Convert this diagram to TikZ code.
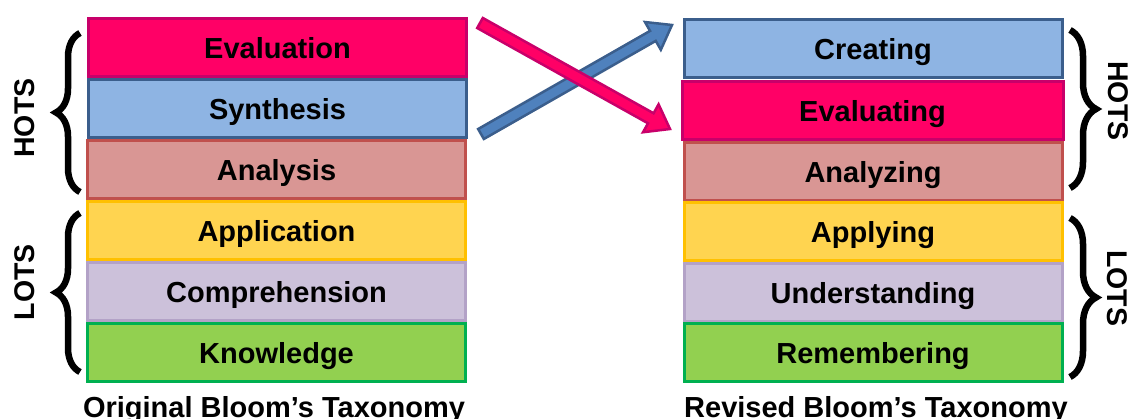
\documentclass[tikz,border=0pt]{standalone}
\usepackage{fontspec}
\setmainfont{Liberation Sans}
\usetikzlibrary{calc,decorations.pathreplacing}
\definecolor{evalF}{HTML}{FF0066}
\definecolor{evalD}{HTML}{C8006A}
\definecolor{synF}{HTML}{8EB4E3}
\definecolor{synD}{HTML}{3B5E8C}
\definecolor{anaF}{HTML}{D99694}
\definecolor{anaD}{HTML}{C0504D}
\definecolor{appF}{HTML}{FFD450}
\definecolor{appD}{HTML}{FFC000}
\definecolor{comF}{HTML}{CCC1DA}
\definecolor{comD}{HTML}{B3A2C7}
\definecolor{knoF}{HTML}{92D050}
\definecolor{knoD}{HTML}{00B050}
\definecolor{arrB}{HTML}{4F81BD}
\begin{document}
\begin{tikzpicture}[x=1pt,y=-1pt,
  lvl/.style={draw, line width=3pt, minimum width=378pt, minimum height=58pt, inner sep=0pt,
              text height=22.5pt, text depth=0pt,
              font=\fontsize{29}{30}\selectfont\bfseries},
  side/.style={font=\fontsize{28.5}{30}\selectfont\bfseries, inner sep=0pt},
  brc/.style={decorate, decoration={brace, amplitude=#1}, line width=6.5pt},
  brc/.default=24pt,
  ttl/.style={font=\fontsize{29}{30}\selectfont\bfseries, anchor=base, inner sep=0pt},
  blk/.style={line width=2.5pt, line join=miter}]
\useasboundingbox (0,0) rectangle (1130,418);

% left column
\node[lvl, draw=evalD, fill=evalF] (oEv) at (277.5,47.5)  {Evaluation};
\node[lvl, draw=synD,  fill=synF]  (oSy) at (277.5,108.5) {Synthesis};
\node[lvl, draw=anaD,  fill=anaF]  (oAn) at (276.5,169.5) {Analysis};
\node[lvl, draw=appD,  fill=appF]  (oAp) at (276.5,230.5) {Application};
\node[lvl, draw=comD,  fill=comF]  (oCo) at (276.5,291.5) {Comprehension};
\node[lvl, draw=knoD,  fill=knoF]  (oKn) at (276.5,352.5) {Knowledge};
\node[ttl] (oT) at (274,417) {Original Bloom’s Taxonomy};

% right column
\node[lvl, draw=synD,  fill=synF]  (rCr) at (873,48.5)  {Creating};
\node[lvl, draw=evalD, fill=evalF, minimum width=381pt] (rEv) at (872.5,110) {Evaluating};
\node[lvl, draw=anaD,  fill=anaF]  (rAn) at (873,171)   {Analyzing};
\node[lvl, draw=appD,  fill=appF]  (rAp) at (873,231.5) {Applying};
\node[lvl, draw=comD,  fill=comF]  (rUn) at (873,292)   {Understanding};
\node[lvl, draw=knoD,  fill=knoF]  (rRe) at (873,352.5) {Remembering};
\node[ttl] (rT) at (876,417) {Revised Bloom’s Taxonomy};

% braces and side labels
\draw[brc] (80,192) -- (80,33);
\draw[brc] (80,372) -- (80,213);
\node[side, rotate=90] (lH) at (25,118) {HOTS};
\node[side, rotate=90] (lL) at (25,282) {LOTS};
\draw[brc=26pt] (1070,30) -- (1070,188);
\draw[brc=26pt] (1070,218) -- (1070,377);
\node[side, rotate=-90] (rH) at (1118,101) {HOTS};
\node[side, rotate=-90] (rL) at (1117,288) {LOTS};

% block arrows
\coordinate (bT) at (481,134);
\coordinate (bH) at (672,25);
\coordinate (bN) at ($(bH)!22pt!(bT)$);
\coordinate (pT) at (480,23);
\coordinate (pH) at (670,129);
\coordinate (pN) at ($(pH)!22pt!(pT)$);
\draw[blk, draw=synD, fill=arrB]
  ($(bT)!5.75pt!90:(bH)$) -- ($(bN)!5.75pt!-90:(bT)$) -- ($(bN)!16pt!-90:(bT)$) -- (bH)
  -- ($(bN)!16pt!90:(bT)$) -- ($(bN)!5.75pt!90:(bT)$) -- ($(bT)!5.75pt!-90:(bH)$) -- cycle;
\draw[blk, draw=evalD, fill=evalF]
  ($(pT)!5.75pt!90:(pH)$) -- ($(pN)!5.75pt!-90:(pT)$) -- ($(pN)!16pt!-90:(pT)$) -- (pH)
  -- ($(pN)!16pt!90:(pT)$) -- ($(pN)!5.75pt!90:(pT)$) -- ($(pT)!5.75pt!-90:(pH)$) -- cycle;
\end{tikzpicture}
\end{document}
